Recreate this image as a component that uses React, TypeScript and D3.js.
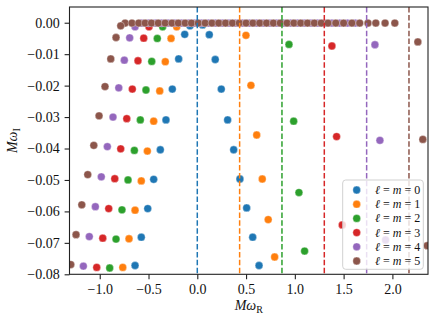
import React, { useRef, useEffect } from "react";
import * as d3 from "d3";

// modes for each l = m (Re, Im of M*omega)
const l0Re = [-0.075, 0.055, -0.129, 0.123, -0.191, 0.184, -0.256, 0.246, -0.321, 0.311, -0.379, 0.373, -0.447, 0.437, -0.508, 0.506, -0.574, 0.568, -0.638, 0.633];
const l0Im = [-0.001, -0.0007, -0.0037, -0.0038, -0.0115, -0.0117, -0.0211, -0.0211, -0.0309, -0.0309, -0.0404, -0.0404, -0.0498, -0.0497, -0.0591, -0.0589, -0.0682, -0.0682, -0.0772, -0.0772];

const l1Re = [-0.211, -0.269, -0.328, -0.385, -0.447, -0.512, -0.574, -0.638, -0.7, -0.764, 0.499, 0.55, 0.609, 0.666, 0.727, 0.793];
const l1Im = [-0.0013, -0.005, -0.0124, -0.0217, -0.0313, -0.0408, -0.0503, -0.0596, -0.0687, -0.0778, -0.004, -0.0199, -0.0357, -0.0497, -0.0626, -0.0745];

const l2Re = [-0.355, -0.41, -0.467, -0.526, -0.584, -0.645, -0.71, -0.772, -0.833, -0.898, 0.94, 0.988, 1.042, 1.1];
const l2Im = [-0.0013, -0.005, -0.0123, -0.0214, -0.0309, -0.0406, -0.05, -0.0595, -0.0688, -0.078, -0.0069, -0.0313, -0.054, -0.0726];

const l3Re = [-0.495, -0.549, -0.608, -0.666, -0.723, -0.785, -0.846, -0.908, -0.969, -1.031, 1.38, 1.428, 1.486];
const l3Im = [-0.0013, -0.0049, -0.0121, -0.0211, -0.0305, -0.0401, -0.0496, -0.0591, -0.0685, -0.0778, -0.0074, -0.0362, -0.0643];

const l4Re = [-0.638, -0.693, -0.748, -0.805, -0.864, -0.922, -0.984, -1.045, -1.107, -1.168, 1.821, 1.872, 1.93];
const l4Im = [-0.0013, -0.0048, -0.0119, -0.0207, -0.03, -0.0394, -0.049, -0.0585, -0.068, -0.0774, -0.007, -0.0374, -0.0691];
// near-real row, mostly hidden under the l=5 row
const l4RowRe = [-0.57, -0.5, -0.43, -0.365, -0.3, -0.23, -0.16, -0.09, -0.025, 0.045, 0.115, 0.185, 0.255, 0.325, 0.395, 0.465, 0.535, 0.605, 0.675, 0.745, 0.815, 0.885, 0.955, 1.025, 1.095, 1.165, 1.235, 1.305, 1.38, 1.46, 1.54, 1.62];

const l5Re = [-0.785, -0.833, -0.887, -0.946, -1.007, -1.061, -1.123, -1.184, -1.243, -1.297, 2.261, 2.312, 2.357];
const l5Im = [-0.001, -0.0047, -0.0115, -0.0203, -0.0296, -0.039, -0.0483, -0.0579, -0.0674, -0.0769, -0.0061, -0.0371, -0.0709];
const l5RowRe = [-0.74, -0.67, -0.6, -0.535, -0.47, -0.4, -0.33, -0.26, -0.195, -0.125, -0.06, 0.01, 0.08, 0.15, 0.22, 0.29, 0.36, 0.43, 0.5, 0.57, 0.64, 0.71, 0.78, 0.85, 0.92, 0.99, 1.06, 1.13, 1.2, 1.27, 1.34, 1.42, 1.5, 1.585, 1.665, 1.75, 1.83, 1.925, 2.025];
const rowIm = -0.0001;

// m * Omega_H lines
const horizonFreqs = [0, 0.434, 0.868, 1.302, 1.736, 2.17];
const ellValues = [0, 1, 2, 3, 4, 5];
const xTicks = [-1.0, -0.5, 0.0, 0.5, 1.0, 1.5, 2.0];
const yTicks = [0.0, -0.01, -0.02, -0.03, -0.04, -0.05, -0.06, -0.07, -0.08];

const colors = ["#1f77b4", "#ff7f0e", "#2ca02c", "#d62728", "#9467bd", "#8c564b"];

const App = () => {
  const svgRef = useRef<SVGSVGElement>(null);

  useEffect(() => {
    const w = 436;
    const h = 321;
    const left = 69.5, right = 428, top = 7, bottom = 274.3;
    const font = "'Liberation Serif', 'DejaVu Serif', serif";
    const svg = d3.select(svgRef.current).attr("width", w).attr("height", h);
    svg.selectAll("*").remove();

    const x = d3.scaleLinear().domain([-1.31, 2.365]).range([left, right]);
    const y = d3.scaleLinear().domain([-0.08, 0.005]).range([bottom, top]);

    svg.append("defs").append("clipPath").attr("id", "plotclip")
      .append("rect").attr("x", left).attr("y", top)
      .attr("width", right - left).attr("height", bottom - top);

    const plot = svg.append("g").attr("clip-path", "url(#plotclip)");

    const series = [
      [l0Re.map((r, i) => [r, l0Im[i]])],
      [l1Re.map((r, i) => [r, l1Im[i]])],
      [l2Re.map((r, i) => [r, l2Im[i]])],
      [l3Re.map((r, i) => [r, l3Im[i]])],
      [l4RowRe.map((r) => [r, rowIm]), l4Re.map((r, i) => [r, l4Im[i]])],
      [l5RowRe.map((r) => [r, rowIm]), l5Re.map((r, i) => [r, l5Im[i]])],
    ];

    series.forEach((groups, k) => {
      const pts = groups.flat();
      plot.append("g").selectAll("circle").data(pts).join("circle")
        .attr("cx", (d) => x(d[0]))
        .attr("cy", (d) => y(d[1]))
        .attr("r", 3.9)
        .attr("fill", colors[k])
        .attr("stroke", "#fff")
        .attr("stroke-width", 0.35);
    });

    //dashed m*Omega_H lines
    plot.selectAll(".vline").data(horizonFreqs).join("line")
      .attr("x1", (d) => x(d)).attr("x2", (d) => x(d))
      .attr("y1", top).attr("y2", bottom)
      .attr("stroke", (d, i) => colors[i])
      .attr("stroke-width", 1.5)
      .attr("stroke-dasharray", "5.5,2.4");

    //axes
    const xAxis = d3.axisBottom(x).tickValues(xTicks).tickSize(4.9).tickPadding(4.4)
      .tickFormat((d) => d3.format(".1f")(d as number).replace("-", "\u2212"));
    const yAxis = d3.axisLeft(y).tickValues(yTicks).tickSize(4.9).tickPadding(4.9)
      .tickFormat((d) => d3.format(".2f")(d as number).replace("-", "\u2212"));

    const gx = svg.append("g").attr("transform", `translate(0, ${bottom})`).call(xAxis);
    const gy = svg.append("g").attr("transform", `translate(${left}, 0)`).call(yAxis);
    [gx, gy].forEach((g) => {
      g.select(".domain").remove();
      g.selectAll("line").attr("stroke", "#222").attr("stroke-width", 1.1);
      g.selectAll("text").attr("font-family", font).attr("font-size", 14).attr("fill", "#111");
    });

    svg.append("rect").attr("x", left).attr("y", top)
      .attr("width", right - left).attr("height", bottom - top)
      .attr("fill", "none").attr("stroke", "#222").attr("stroke-width", 1.1);

    //axis labels
    const xl = svg.append("text").attr("x", (left + right) / 2).attr("y", 310)
      .attr("text-anchor", "middle").attr("font-family", font).attr("font-size", 14).attr("fill", "#111");
    xl.append("tspan").attr("font-style", "italic").text("Mω");
    xl.append("tspan").attr("font-size", 10).attr("dy", 3).text("R");

    const yl = svg.append("text")
      .attr("transform", `translate(17, ${(top + bottom) / 2}) rotate(-90)`)
      .attr("text-anchor", "middle").attr("font-family", font).attr("font-size", 14).attr("fill", "#111");
    yl.append("tspan").attr("font-style", "italic").text("Mω");
    yl.append("tspan").attr("font-size", 10).attr("dy", 3).text("I");

    //legend
    const lg = svg.append("g");
    lg.append("rect").attr("x", 342.7).attr("y", 180).attr("width", 80.6).attr("height", 89.3)
      .attr("rx", 3).attr("fill", "#fff").attr("fill-opacity", 0.8)
      .attr("stroke", "#ccc").attr("stroke-width", 0.9);
    const rows = lg.selectAll(".entry").data(ellValues).join("g")
      .attr("transform", (d, i) => `translate(0, ${190 + i * 14.2})`);
    rows.append("circle").attr("cx", 356.7).attr("cy", 0).attr("r", 3.9)
      .attr("fill", (d, i) => colors[i]).attr("stroke", "#fff").attr("stroke-width", 0.35);
    const lt = rows.append("text").attr("x", 375).attr("y", 4)
      .attr("font-family", font).attr("font-size", 12).attr("fill", "#111");
    lt.append("tspan").attr("font-style", "italic").text("ℓ");
    lt.append("tspan").text(" = ");
    lt.append("tspan").attr("font-style", "italic").text("m");
    lt.append("tspan").text((d) => ` = ${d}`);
  }, []);

  return (
    <svg ref={svgRef} style={{ position: "absolute", left: 0, top: 0 }}></svg>
  );
};

export default App;
